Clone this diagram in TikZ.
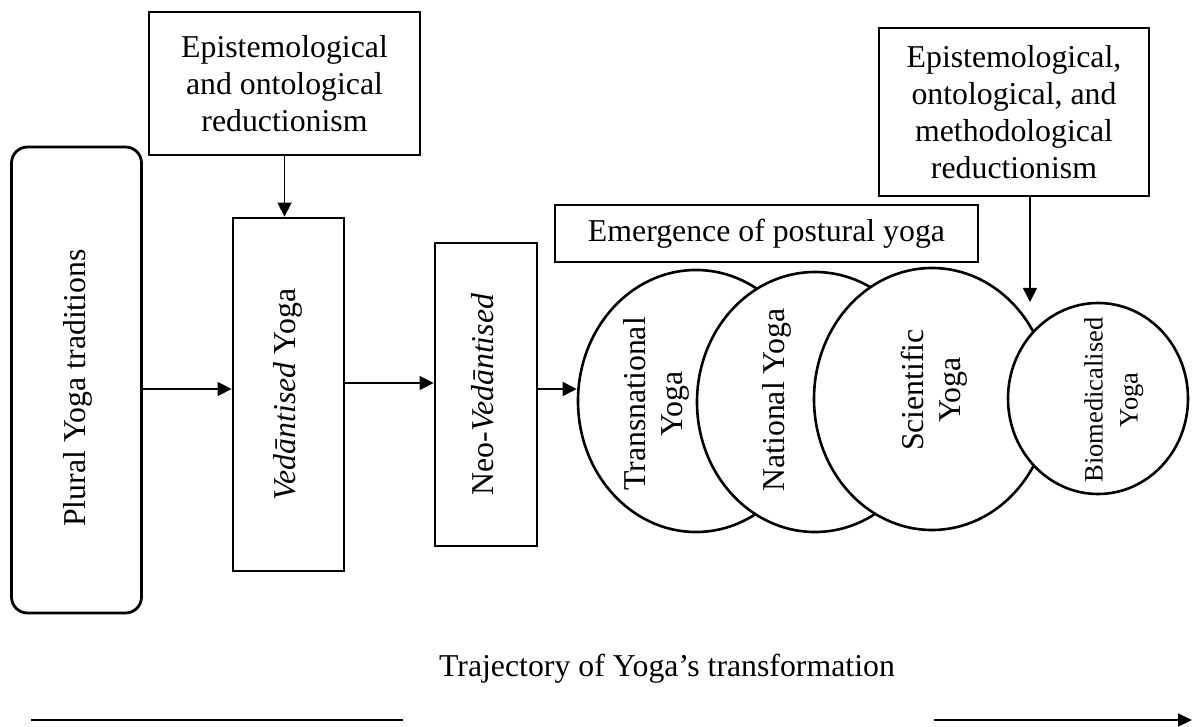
\documentclass[tikz,border=0pt]{standalone}
\usepackage{fontspec}
\setmainfont{Liberation Serif}
\usetikzlibrary{calc, arrows.meta, positioning, shapes.geometric}

\tikzset{
  thinbox/.style={draw, line width=0.75pt, align=center, inner sep=0pt},
  thickbox/.style={draw, line width=1.4pt, inner sep=0pt},
  oval/.style={draw, ellipse, fill=white, line width=1.3pt, inner sep=0pt},
  arr/.style={line width=0.75pt, -{Triangle[length=7pt,width=7pt]}},
  trajline/.style={line width=1pt},
}
\newcommand{\vlabel}[1]{\rotatebox{90}{\begin{tabular}{@{}c@{}}#1\end{tabular}}}

\begin{document}
\begin{tikzpicture}[x=0.5pt, y=-0.5pt, every node/.style={font=\fontsize{15.9}{18.4}\selectfont}]
        \useasboundingbox (0,0) rectangle (1194,727);

        \node[thinbox, minimum width=135.5pt, minimum height=71.5pt] (redA) at (284.5,83.5) {Epistemological\\and ontological\\reductionism};
        \node[thinbox, minimum width=135pt, minimum height=84pt] (redB) at (1014,112) {Epistemological,\\ontological, and\\methodological\\reductionism};
        \node[thinbox, minimum width=211.5pt, minimum height=28.5pt] (postural) at (766.5,233.5) {Emergence of postural yoga};

        \node[thickbox, rounded corners=8pt, minimum width=65pt, minimum height=233pt] (plural) at (76.5,380) {};
        \node (pluralTxt) at (78,388) {\vlabel{Plural Yoga traditions}};
        \node[thickbox, minimum width=55.5pt, minimum height=176.5pt] (ved) at (288.5,394.5) {\vlabel{\textit{Vedāntised} Yoga}};
        \node[thickbox, minimum width=51pt, minimum height=151.5pt] (neo) at (486,394.5) {\vlabel{Neo-\textit{Vedāntised}}};

        \node[oval, minimum width=118pt, minimum height=131pt] (trans) at (696,401) {};
        \node (transTxt) at (657,404) {\vlabel{Transnational\\Yoga}};
        \node[oval, minimum width=118pt, minimum height=130pt] (natl) at (815,402) {};
        \node (natlTxt) at (777,400) {\vlabel{National Yoga}};
        \node[oval, minimum width=118pt, minimum height=131pt] (sci) at (932,399) {};
        \node (sciTxt) at (935,390) {\vlabel{Scientific\\Yoga}};
        \node[oval, minimum width=90pt, minimum height=95.5pt] (bio) at (1098,398.5) {};
        \node[font=\fontsize{13.25}{17.5}\selectfont] (bioTxt) at (1113,400) {\vlabel{Biomedicalised\\Yoga}};

        \draw[arr] (redA.south) -- (redA.south |- ved.north);
        \draw[arr] (plural.east |- 0,389) -- (ved.west |- 0,389);
        \draw[arr] (ved.east |- 0,383) -- (neo.west |- 0,383);
        \draw[arr] (neo.east |- 0,389) -- (trans.west |- 0,389);

        \coordinate (bioIn) at (1030,302);
        \draw[arr] (redB.south -| bioIn) -- (bioIn);

        \node[anchor=base] (traj) at (667,676) {Trajectory of Yoga’s transformation};
        \coordinate (trajL) at (31,720);
        \coordinate (trajM) at (403,720);
        \coordinate (trajN) at (934,720);
        \coordinate (trajR) at (1192,720);
        \draw[trajline] (trajL) -- (trajM);
        \draw[trajline, -{Triangle[length=7pt,width=6.5pt]}] (trajN) -- (trajR);
\end{tikzpicture}
\end{document}
